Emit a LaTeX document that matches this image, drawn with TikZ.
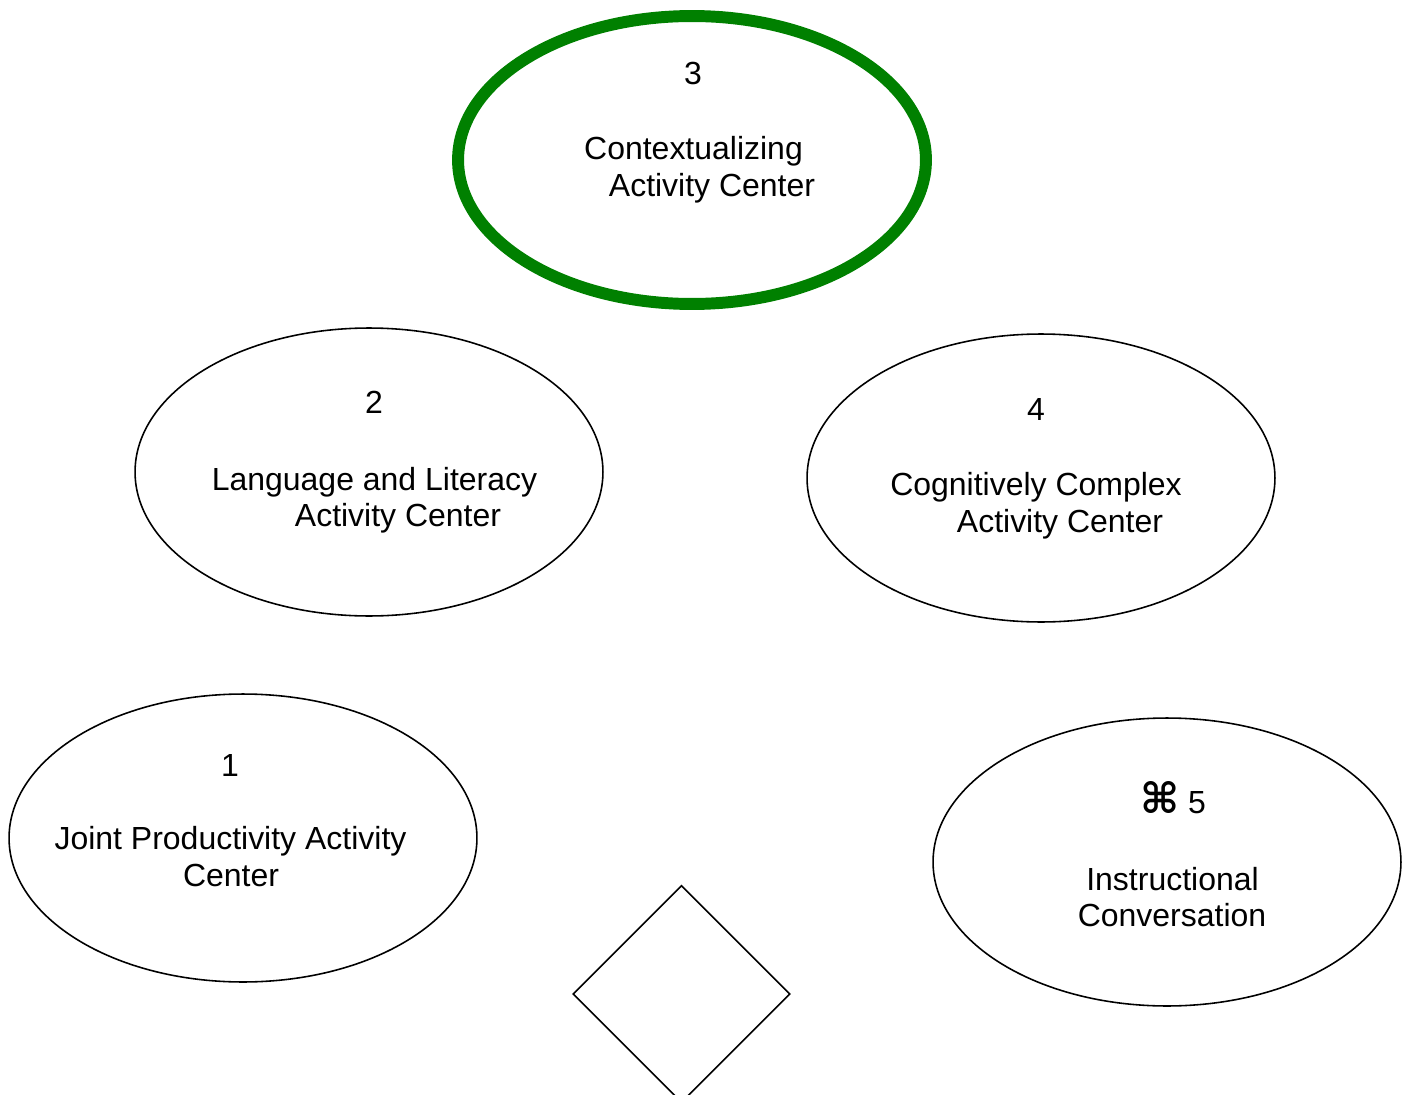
\documentclass[tikz,border=0pt]{standalone}
\usepackage{fontspec}
\setmainfont{Liberation Sans}
\newfontfamily\symbfont{DejaVu Sans}
\usepackage{tikz}
\usetikzlibrary{shapes}
\definecolor{centergreen}{RGB}{0,128,0}

\begin{document}
\begin{tikzpicture}[x=0.02cm, y=-0.02cm, center node/.style={ellipse, draw, line width=0.9pt, minimum width=9.36cm, minimum height=5.76cm, inner sep=0pt}, text node/.style={anchor=base, inner sep=0pt, font=\fontsize{18.2pt}{21pt}\selectfont}]
\clip (0,0) rectangle (1410,1095);
\node[center node, draw=centergreen, line width=6.8pt] (3) at (692,160) {};
\node[center node] (2) at (369,472) {};
\node[center node] (4) at (1041,478) {};
\node[center node] (1) at (243,838) {};
\node[center node] (5) at (1167,862) {};
\node[diamond, draw, line width=0.9pt, aspect=1, minimum width=4.34cm, minimum height=4.34cm, inner sep=0pt] (6) at (681.5,994) {};
% labels
\node[text node] (3a) at (693,85) {3};
\node[text node] (3b) at (693.5,159) {Contextualizing};
\node[text node] (3c) at (712,196) {Activity Center};
\node[text node] (2a) at (374,413) {2};
\node[text node] (2b) at (374.5,490) {Language and Literacy};
\node[text node] (2c) at (398,526) {Activity Center};
\node[text node] (4a) at (1036,420) {4};
\node[text node] (4b) at (1036,495) {Cognitively Complex};
\node[text node] (4c) at (1060,532) {Activity Center};
\node[text node] (1a) at (230,776) {1};
\node[text node] (1b) at (230.5,849) {Joint Productivity Activity};
\node[text node] (1c) at (231,886) {Center};
\node[text node] (5a) at (1173,813) {{\symbfont\bfseries\fontsize{24pt}{24pt}\selectfont ⌘} 5};
\node[text node] (5b) at (1172.5,890) {Instructional};
\node[text node] (5c) at (1172,926) {Conversation};
\end{tikzpicture}
\end{document}
